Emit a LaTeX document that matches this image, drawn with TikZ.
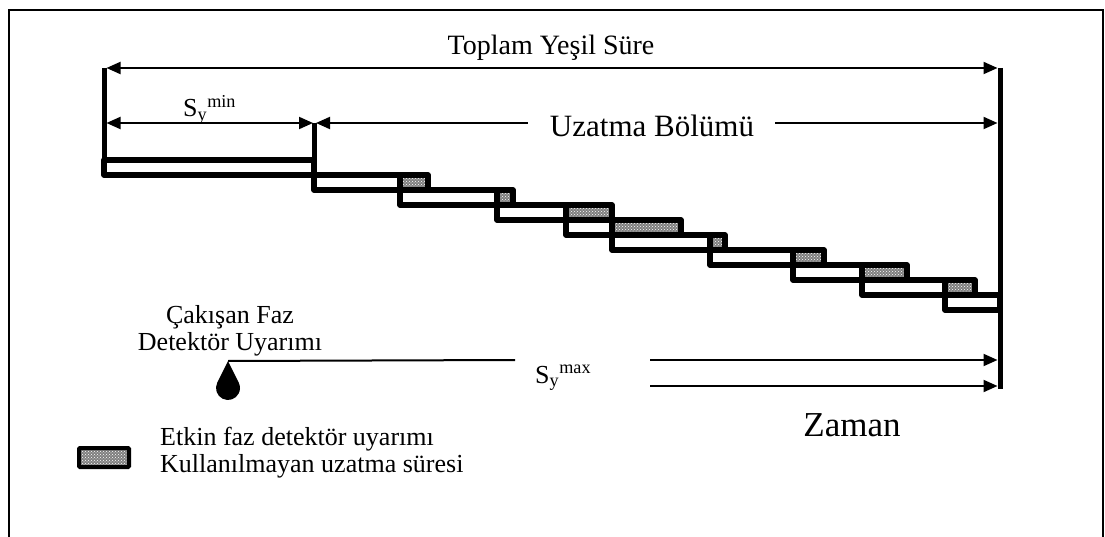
\documentclass[tikz,border=0pt]{standalone}
\usepackage{fontspec}
\setmainfont{Liberation Serif}
\usetikzlibrary{arrows.meta,patterns}
\newcommand{\fsz}[1]{\fontsize{#1}{#1}\selectfont}
\begin{document}
\begin{tikzpicture}[x=1pt,y=-1pt,
  frame/.style={line width=2pt},
  bar/.style={line width=5pt},
  stepbox/.style={line width=5.5pt,line join=round},
  tip/.tip={Triangle[length=14pt,width=12pt]},
  dimline/.style={line width=2pt},
  hatch/.style={fill=black!50,postaction={pattern=crosshatch dots,pattern color=white}},
  lbl/.style={inner sep=0pt,anchor=base}
]
\useasboundingbox (0,0) rectangle (1105,537);

% open frame
\draw[frame] (9,537) -- (9,10) -- (1103,10) -- (1103,537);

% key coordinates
\coordinate (L68)  at (104,68);
\coordinate (R68)  at (1000,68);
\coordinate (L123) at (104,123);
\coordinate (M123) at (314,123);
\coordinate (R123) at (1000,123);
\coordinate (ua)   at (528,123);
\coordinate (ub)   at (775,123);
\coordinate (R360) at (1000,360);
\coordinate (R386) at (1000,386);
\coordinate (s1)   at (650,360);
\coordinate (s2)   at (650,386);
\coordinate (e1)   at (515,360);

% extension stages: left / right end / next start / top
\foreach \l/\r/\n/\y in {104/314/314/160, 314/428/400/175, 400/513/497/190,
    497/612/566/205, 566/681/612/220, 612/725/710/235, 710/824/793/250,
    793/907/862/265, 862/975/945/280, 945/1000/1000/295}{
  \ifdim\n pt<\r pt
    \path[hatch] (\n,\y) rectangle (\r,\y+15);
  \fi
  \draw[stepbox] (\l,\y) rectangle (\r,\y+15);
  \ifdim\n pt<1000pt
    \draw[stepbox] (\n,\y) -- (\n,\y+30);
  \fi
}

% vertical bars
\draw[bar] (L68) -- (104,176);
\draw[bar] (M123) -- (314,190);
\draw[bar] (R68) -- (1000,389);

% dimension arrows
\draw[dimline,tip-tip,shorten <=2.5pt,shorten >=2.5pt] (L68) -- (R68);
\draw[dimline,tip-tip,shorten <=2.5pt,shorten >=1pt] (L123) -- (M123);
\draw[dimline,tip-,shorten <=2pt] (M123) -- (ua);
\draw[dimline,-tip,shorten >=2.5pt] (ub) -- (R123);
\draw[dimline,-tip,shorten >=2.5pt] (s1) -- (R360);
\draw[dimline,-tip,shorten >=2.5pt] (s2) -- (R386);

% detector call marker
\coordinate (drop) at (228,361);
\fill (drop) -- (217.25,382.67) arc[start angle=206.4,end angle=-26.4,radius=12] -- cycle;
\draw[dimline] (drop) -- (e1);

% labels
\node[lbl] (toplam) at (551,55) {\fsz{28}Toplam Yeşil Süre};
\node[lbl,anchor=base west] (symin) at (183,117) {\fsz{26}S\textsubscript{y}\textsuperscript{min}};
\node[lbl] (uzatma) at (652,137) {\fsz{31}Uzatma Bölümü};
\node[lbl] (cak1) at (230,323) {\fsz{26}Çakışan Faz};
\node[lbl] (cak2) at (230,350) {\fsz{26}Detektör Uyarımı};
\node[lbl,anchor=base west] (symax) at (535,383) {\fsz{26}S\textsubscript{y}\textsuperscript{max}};
\node[lbl] (zaman) at (852,436) {\fsz{35}Zaman};

% legend
\path[hatch] (79,448) rectangle (129,467);
\draw[line width=4pt,rounded corners=1pt] (79,448) rectangle (129,467);
\node[lbl,anchor=base west] (leg1) at (160,445) {\fsz{26}Etkin faz detektör uyarımı};
\node[lbl,anchor=base west] (leg2) at (160,472) {\fsz{26}Kullanılmayan uzatma süresi};
\end{tikzpicture}
\end{document}
